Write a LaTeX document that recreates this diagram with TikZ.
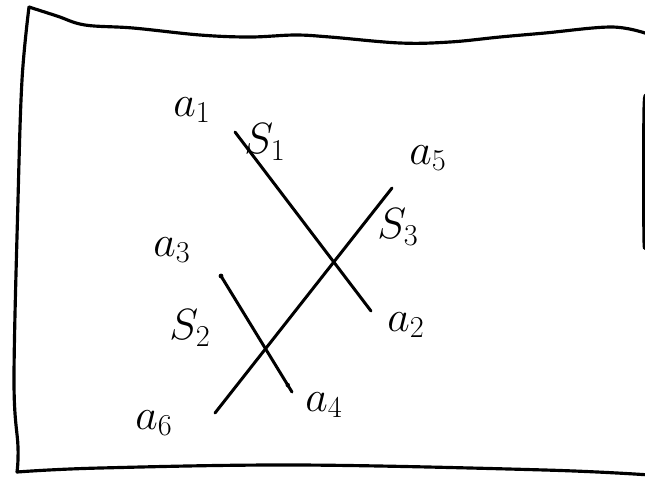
\documentclass[tikz,border=0pt]{standalone}
\usepackage{tikz}
\usetikzlibrary{calc}
\definecolor{Ink}{HTML}{000000}
\definecolor{Paper}{HTML}{FFFFFF}
\tikzset{
  frame/.style={draw=Ink, line width=1.8pt, line cap=round, line join=round},
  seg/.style={draw=Ink, line width=1.7pt, line cap=round},
  lbl/.style={inner sep=0pt, text=Ink, font=\fontsize{23}{27}\selectfont}
}

\begin{document}
\begin{tikzpicture}[x=0.02cm,y=-0.02cm]
        \useasboundingbox[fill=Paper] (0,0) rectangle (645,478);
        % hand drawn frame
        \draw[frame] plot[smooth,tension=0.6] coordinates {(29,7) (57,16) (85,25) (133,28) (200,35) (250,37) (295,35) (330,37) (400,43) (450,42) (500,37) (545,33) (612,27) (648,34)};
        \draw[frame] plot[smooth,tension=0.6] coordinates {(29,7) (22,80) (18,200) (14,380) (18,447) (17,472)};
        \draw[frame] plot[smooth,tension=0.6] coordinates {(17,472) (100,468) (300,465) (545,470) (650,475)};
        \draw[frame] plot[smooth,tension=0.6] coordinates {(648,34) (647,90) (644,110) (644,240) (647,260) (648,470)};
        % end points
        \coordinate (a1) at (235,132);
        \coordinate (a2) at (371,311);
        \coordinate (a3) at (221,276);
        \coordinate (a4) at (292,392);
        \coordinate (a5) at (392,188);
        \coordinate (a6) at (215,413);
        % segments
        \draw[seg] (a1) -- (a2);
        \draw[seg] (a3) -- (a4);
        \draw[seg] (a6) -- (a5);
        \fill[Ink] (a3) circle (2.4);
        \fill[Ink] ($(a4)!0.06!(a3)$) circle (2.2);
        % labels
        \node[lbl] (la1) at (192,110) {$a_1$};
        \node[lbl] (ls1) at (265,142) {$S_1$};
        \node[lbl] (la5) at (428,158) {$a_5$};
        \node[lbl] (ls3) at (398,227) {$S_3$};
        \node[lbl] (la3) at (172,250) {$a_3$};
        \node[lbl] (ls2) at (190,328) {$S_2$};
        \node[lbl] (la2) at (406,325) {$a_2$};
        \node[lbl] (la6) at (154,423) {$a_6$};
        \node[lbl] (la4) at (324,405) {$a_4$};
\end{tikzpicture}
\end{document}
